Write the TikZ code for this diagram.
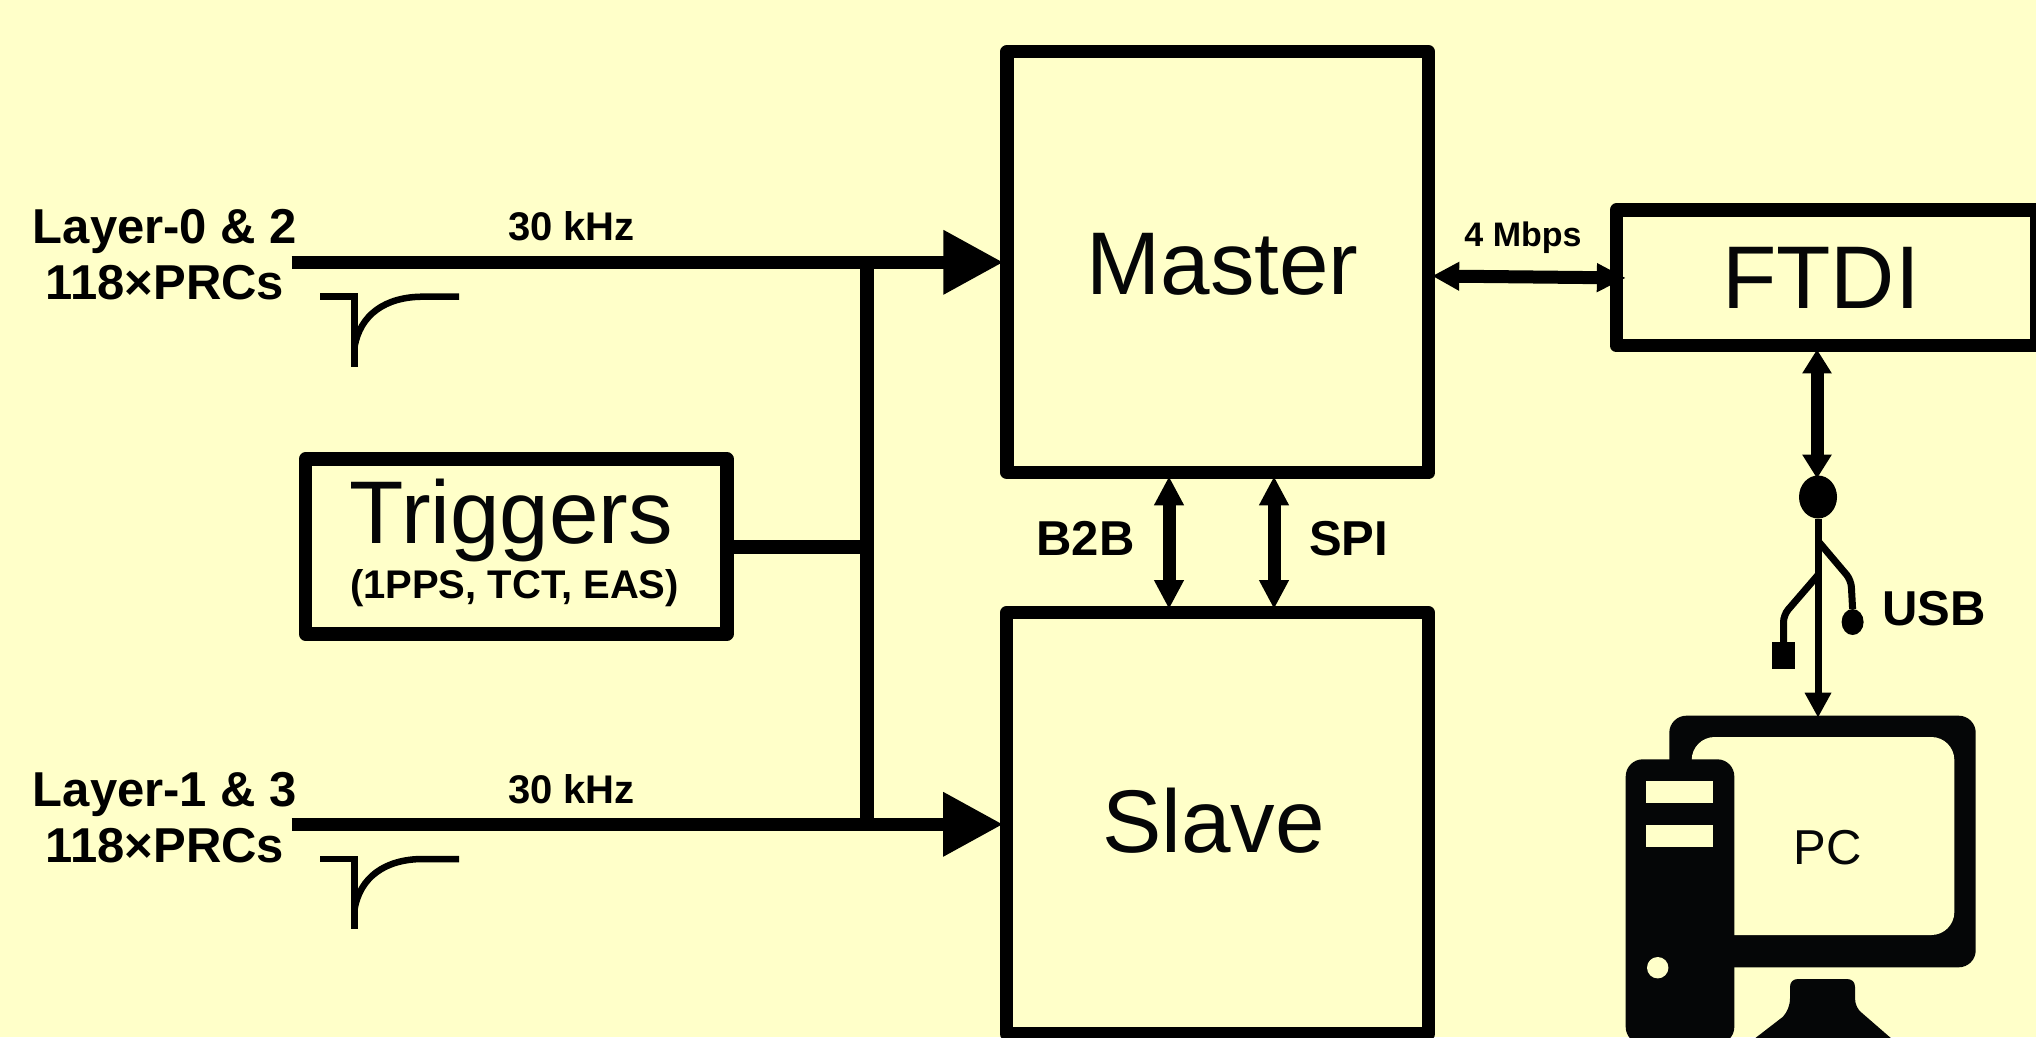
\documentclass[tikz,border=0pt]{standalone}
\usepackage{fontspec}
\setmainfont{Liberation Sans}
\usetikzlibrary{arrows.meta,shapes.geometric}
\definecolor{bgc}{HTML}{FFFFC9}
\definecolor{ink}{HTML}{050607}
\newcommand{\fs}[1]{\fontsize{#1}{#1}\selectfont}
\tikzset{
  boxn/.style={draw=black,line width=13.3pt,line join=round,inner sep=0pt,fill=none},
  big/.style={anchor=base,inner sep=0pt,font=\fs{89},text=ink},
  lbl/.style={anchor=base,inner sep=0pt,font=\fs{49}\bfseries,text=black},
  rate/.style={anchor=base,inner sep=0pt,font=\fs{40}\bfseries,text=black},
  sig/.style={line width=13.3pt,shorten >=-3pt,-{Triangle[length=60pt,width=61pt]}},
  bus/.style={line width=14pt},
  dbl/.style={line width=13pt,shorten >=-3pt,shorten <=-3pt,{Triangle[length=29pt,width=28pt]}-{Triangle[length=29pt,width=28pt]}},
  pulse/.style={line width=6.5pt},
  usbw/.style={line width=7pt,rounded corners=7pt},
  blob/.style={ellipse,fill=black,inner sep=0pt,draw=none,outer sep=0pt},
}
\begin{document}
\begin{tikzpicture}[x=1pt,y=-1pt]
\useasboundingbox (0,0) rectangle (2036,1037);
\clip (0,0) rectangle (2036,1037);
\fill[bgc] (0,0) rectangle (2036,1037);

% blocks
\node[boxn,minimum width=421.5pt,minimum height=421pt] (master) at (1217.75,262.2) {};
\node[boxn,minimum width=421.5pt,minimum height=421.3pt] (slave) at (1217.5,823.3) {};
\node[boxn,minimum width=421.5pt,minimum height=175pt] (trig) at (516.25,546.5) {};
\node[boxn,minimum width=420.5pt,minimum height=135.8pt] (ftdi) at (1826.75,277.9) {};
\node[big] (mastertxt) at (1222.5,294) {Master};
\node[big] (slavetxt) at (1213.5,852.5) {Slave};
\node[big] (trigtxt) at (511.5,543) {Triggers};
\node[big] (ftditxt) at (1821,308) {FTDI};
\node[anchor=base,inner sep=0pt,font=\fs{40}\bfseries] (trigsub) at (514.5,598.5) {(1PPS, TCT, EAS)};

% PC icon
\node[fill=ink,rounded corners=17pt,minimum width=306.4pt,minimum height=251.6pt,inner sep=0pt,outer sep=0pt] (monitor) at (1822.5,841.5) {};
\fill[bgc,rounded corners=23pt] (1691.7,737) rectangle (1954.3,935);
\fill[ink,rounded corners=17pt] (1625.7,759.3) rectangle (1734.3,1044);
\fill[bgc] (1646.3,781) rectangle (1713,803.3);
\fill[bgc] (1646.3,824.7) rectangle (1713,847);
\fill[bgc] (1657.7,967.7) circle[radius=10.7pt];
\fill[ink] (1790,987) .. controls (1790,982) and (1793,979) .. (1798,979)
  -- (1847,979) .. controls (1852,979) and (1855,982) .. (1855,987)
  -- (1855,998) .. controls (1855,1005) and (1858,1010) .. (1862,1013)
  -- (1900,1046) -- (1745,1046) -- (1783,1016.7)
  .. controls (1787,1012) and (1790,1006) .. (1790,998) -- cycle;
\node[anchor=base,inner sep=0pt,font=\fs{49},text=ink] (pctxt) at (1828,864) {PC};

% input lines
\coordinate (l0) at (291.5,262.3);
\coordinate (l1) at (291.5,824.3);
\coordinate (j0) at (867,262.3);
\coordinate (j1) at (867,824.3);
\draw[sig] (l0) -- (l0 -| master.west);
\draw[sig] (l1) -- (l1 -| slave.west);
\draw[bus] (j0) -- (j1);
\draw[bus] (trig.east) -- (trig.east -| j0);

\node[lbl] (l0a) at (165,243) {Layer-0 \& 2};
\node[lbl] (l0b) at (165,299.5) {118×PRCs};
\node[lbl] (l1a) at (165,806) {Layer-1 \& 3};
\node[lbl] (l1b) at (165,862) {118×PRCs};
\node[rate] (r0) at (571.5,240) {30 kHz};
\node[rate] (r1) at (571.5,803) {30 kHz};

% pulses
\draw[pulse] (320,296.7) -- (354.6,296.7) -- (354.6,366.7);
\draw[pulse] (354.6,346.7) .. controls (360,315) and (385,296.7) .. (423,296.7) -- (459,296.7);
\draw[pulse] (320,859) -- (354.6,859) -- (354.6,929);
\draw[pulse] (354.6,909) .. controls (360,877.3) and (385,859) .. (423,859) -- (459,859);

% board links
\coordinate (b2b) at (1169,0);
\coordinate (spi) at (1274,0);
\draw[dbl] (master.south -| b2b) -- (slave.north -| b2b);
\draw[dbl] (master.south -| spi) -- (slave.north -| spi);
\node[lbl] (b2btxt) at (1085.5,555) {B2B};
\node[lbl] (spitxt) at (1348.5,555) {SPI};

% FTDI link
\coordinate (f0) at (0,276);
\draw[line width=13pt,shorten >=-3pt,shorten <=-3pt,{Triangle[length=27pt,width=27pt]}-{Triangle[length=29pt,width=27pt]}]
  (f0 -| master.east) -- ([xshift=13pt]ftdi.west);
\node[anchor=base,inner sep=0pt,font=\fs{34}\bfseries] (mbps) at (1523,246.7) {4 Mbps};

% USB
\node[blob,minimum width=38pt,minimum height=43pt] (usb) at (1818,497) {};
\coordinate (u0) at (1817,0);
\draw[line width=13pt,shorten >=-3pt,shorten <=-3pt,{Triangle[length=24pt,width=28pt]}-{Triangle[length=24pt,width=28pt]}]
  (ftdi.south -| u0) -- (usb.north -| u0);
\draw[line width=7pt,shorten >=-2pt,-{Triangle[length=25pt,width=25pt]}] (usb.south) -- (monitor.north -| usb.south);
\node[blob,minimum width=22pt,minimum height=26pt] (dot) at (1852.6,622) {};
\node[fill=black,inner sep=0pt,outer sep=0pt,minimum width=23pt,minimum height=27pt] (sq) at (1783.5,655.5) {};
\draw[usbw] (1818,541) -- (1851,580) -- (dot.north);
\draw[usbw] (1818,575) -- (1783.5,615) -- (sq.north);
\node[lbl] (usbtxt) at (1934,625) {USB};
\end{tikzpicture}
\end{document}
